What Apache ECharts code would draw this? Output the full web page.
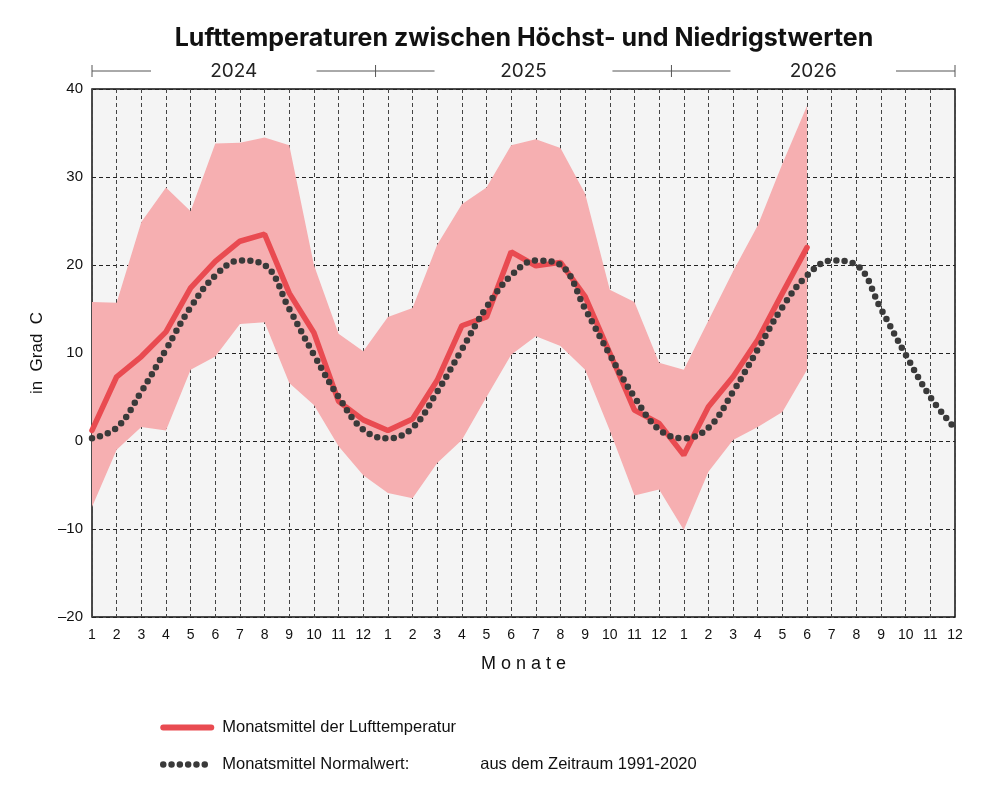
<!DOCTYPE html>
<html>
<head>
<meta charset="utf-8">
<script src="https://cdn.jsdelivr.net/npm/echarts@6/dist/echarts.min.js"></script>
<style>
  html, body { margin: 0; background: #fff; }
  #main { width: 1000px; height: 791px; }
</style>
</head>
<body>
<div id="main"></div>
<script>
// Daten
var jahre = ['2024', '2025', '2026'];
var monate = ['1', '2', '3', '4', '5', '6', '7', '8', '9', '10', '11', '12'];

// Monatsmittel der Lufttemperatur (bis Juni 2026)
var mittel = [
  1.2, 7.3, 9.6, 12.4, 17.4, 20.4, 22.7, 23.5, 16.8, 12.3, 4.5, 2.4,
  1.2, 2.5, 6.9, 13.1, 14.1, 21.5, 19.9, 20.3, 16.4, 10.0, 3.5, 2.0,
  -1.6, 3.9, 7.3, 11.5, 16.8, 22.0
];
// Höchstwerte
var hoechst = [
  15.8, 15.7, 24.9, 28.8, 26.1, 33.8, 33.9, 34.5, 33.6, 20.0, 12.2, 10.2,
  14.1, 15.1, 22.3, 26.9, 28.8, 33.6, 34.3, 33.3, 28.1, 17.2, 15.8, 8.9,
  8.1, 13.7, 19.3, 24.5, 31.5, 38.1
];
// Niedrigstwerte
var niedrigst = [
  -7.5, -1.0, 1.6, 1.2, 8.1, 9.6, 13.3, 13.5, 6.6, 4.1, -0.6, -3.9,
  -5.9, -6.5, -2.5, 0.1, 5.0, 9.8, 11.9, 10.8, 8.1, 1.2, -6.2, -5.5,
  -10.1, -3.5, 0.1, 1.6, 3.3, 8.1
];
// Normalwert 1991-2020
var normal = [
  0.3, 1.5, 5.6, 10.4, 15.2, 18.8, 20.5, 20.0, 15.0, 9.8, 5.0, 1.3,
  0.3, 1.5, 5.6, 10.4, 15.2, 18.8, 20.5, 20.0, 15.0, 9.8, 5.0, 1.3,
  0.3, 1.5, 5.6, 10.4, 15.2, 18.8, 20.5, 20.0, 15.0, 9.8, 5.0, 1.4
];

var nameMittel = 'Monatsmittel der Lufttemperatur';
var nameNormal = 'Monatsmittel Normalwert:';
var zeitraum = 'aus dem Zeitraum 1991-2020';

var kategorien = [];
jahre.forEach(function (j) {
  monate.forEach(function (m) { kategorien.push(j + '-' + m); });
});
// Spanne zwischen Niedrigst- und Höchstwert für das gestapelte Band
var spanne = hoechst.map(function (v, i) { return +(v - niedrigst[i]).toFixed(1); });

var font = 'Liberation Sans';
var rot = '#e94b51';
var grau = '#3a3a3a';
var linieMittel = { color: rot, width: 5.5, cap: 'round' };
var linieNormal = { color: grau, width: 6.5, type: [0, 8.3], cap: 'round' };
var chart = echarts.init(document.getElementById('main'));

var option = {
  animation: false,
  title: {
    text: 'Lufttemperaturen zwischen Höchst- und Niedrigstwerten',
    left: 519,
    textAlign: 'center',
    top: 21,
    textStyle: { fontFamily: 'Inter', fontWeight: 'bold', fontSize: 25, color: '#111' }
  },
  legend: {
    orient: 'vertical',
    left: 160,
    top: 719,
    padding: 0,
    itemWidth: 48,
    itemHeight: 16,
    itemGap: 20,
    itemStyle: { opacity: 0 },
    data: [
      { name: nameMittel, lineStyle: { width: 6, cap: 'round' } },
      { name: nameNormal, lineStyle: { width: 6.5, type: [0, 8.3], cap: 'round' } }
    ],
    textStyle: {
      fontFamily: font, fontSize: 16.5, color: '#111', padding: [0, 0, 0, 6],
      rich: {
        a: { fontFamily: font, fontSize: 16.5, color: '#111', width: 258 },
        b: { fontFamily: font, fontSize: 16.5, color: '#111' }
      }
    },
    formatter: function (name) {
      return name === nameNormal ? '{a|' + name + '}{b|' + zeitraum + '}' : name;
    }
  },
  grid: {
    left: 92, right: 45, top: 89, bottom: 174,
    show: true, backgroundColor: '#f4f4f4', borderColor: '#111', borderWidth: 1.5
  },
  xAxis: {
    type: 'category',
    data: kategorien,
    boundaryGap: false,
    axisLine: { show: false },
    axisTick: { show: false },
    axisLabel: {
      interval: 0, margin: 11, fontSize: 14, color: '#111', fontFamily: font,
      formatter: function (v) { return v.split('-')[1]; }
    },
    splitLine: { show: true, interval: 0, lineStyle: { color: '#444', type: [4, 3], width: 1 } },
    name: 'M o n a t e',
    nameLocation: 'middle',
    nameGap: 38,
    nameTextStyle: { fontFamily: font, fontSize: 18, color: '#111' }
  },
  yAxis: {
    type: 'value',
    min: -20, max: 40, interval: 10,
    axisLine: { show: false },
    axisTick: { show: false },
    axisLabel: {
      margin: 9, fontSize: 15, color: '#111', fontFamily: font,
      formatter: function (v) { return String(v).replace('-', '\u2013'); }
    },
    splitLine: { lineStyle: { color: '#222', type: [4, 3], width: 1 } },
    name: 'in  Grad  C',
    nameLocation: 'middle',
    nameRotate: 90,
    nameGap: 46,
    nameTextStyle: { fontFamily: font, fontSize: 17, color: '#111' }
  },
  series: [
    {
      name: 'niedrigst', type: 'line', data: niedrigst,
      stack: 'band', stackStrategy: 'all', symbol: 'none', silent: true,
      lineStyle: { opacity: 0 }
    },
    {
      name: 'spanne', type: 'line', data: spanne,
      stack: 'band', stackStrategy: 'all', symbol: 'none', silent: true,
      lineStyle: { opacity: 0 },
      areaStyle: { color: '#f6afb1', opacity: 1 }
    },
    {
      name: nameMittel, type: 'line', data: mittel, symbol: 'none', z: 3,
      lineStyle: linieMittel,
      itemStyle: { color: rot }
    },
    {
      name: nameNormal, type: 'line', data: normal, symbol: 'none', z: 4,
      smooth: 0.4,
      lineStyle: linieNormal,
      itemStyle: { color: grau }
    }
  ]
};
chart.setOption(option);

// Jahreskopf über dem Diagramm
function jahresKopf() {
  var px = function (i) { return chart.convertToPixel({ xAxisIndex: 0 }, i); };
  var y = 71, stueck = 59;
  var n = kategorien.length;
  var els = [];
  var grenzen = [px(0), (px(11) + px(12)) / 2, (px(23) + px(24)) / 2, px(n - 1)];
  grenzen.forEach(function (x) {
    els.push({ type: 'line', shape: { x1: x, y1: 65, x2: x, y2: 77 }, style: { stroke: '#555', lineWidth: 1 } });
  });
  jahre.forEach(function (j, k) {
    var xs = grenzen[k], xe = grenzen[k + 1];
    els.push({ type: 'line', shape: { x1: xs, y1: y, x2: xs + stueck, y2: y }, style: { stroke: '#555', lineWidth: 1 } });
    els.push({ type: 'line', shape: { x1: xe - stueck, y1: y, x2: xe, y2: y }, style: { stroke: '#555', lineWidth: 1 } });
    els.push({
      type: 'text', x: (xs + xe) / 2, y: y,
      style: { text: j, align: 'center', verticalAlign: 'middle', fontFamily: 'Inter', fontSize: 19, fill: '#222' }
    });
  });
  chart.setOption({ graphic: els });
}
jahresKopf();
</script>
</body>
</html>
